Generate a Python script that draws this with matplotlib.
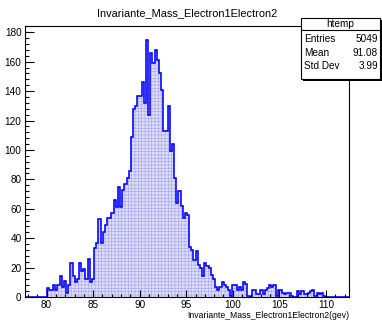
import numpy as np
import matplotlib
matplotlib.use("Agg")
import matplotlib.pyplot as plt
from matplotlib.patches import Rectangle
from matplotlib.ticker import MultipleLocator

plt.rcParams['font.family'] = ['Liberation Sans Narrow', 'Liberation Sans', 'DejaVu Sans']
plt.rcParams['hatch.linewidth'] = 0.4

hist_name = "htemp"
hist_title = "Invariante_Mass_Electron1Electron2"
x_title = "Invariante_Mass_Electron1Electron2(gev)"

# binning of htemp: 150 bins, data only between 80 and 110
x_min, bin_width, n_bins = 77.68, 0.232, 150
first_filled = 10
filled_counts = [
    6, 5, 5, 8, 5, 8, 14, 7, 11, 3,
    8, 23, 14, 10, 12, 23, 18, 19, 12, 26,
    10, 12, 33, 37, 53, 37, 44, 49, 54, 54,
    57, 66, 61, 75, 61, 73, 77, 81, 86, 109,
    128, 130, 137, 137, 146, 132, 175, 124, 166, 159,
    168, 161, 152, 141, 113, 113, 130, 99, 104, 81,
    64, 72, 62, 54, 57, 56, 34, 32, 25, 31,
    22, 20, 14, 23, 21, 20, 15, 12, 7, 5,
    7, 10, 8, 7, 5, 1, 8, 8, 5, 7,
    5, 10, 9, 1, 0, 5, 5, 2, 2, 5,
    2, 5, 6, 8, 7, 8, 1, 5, 5, 3,
    2, 3, 3, 1, 0, 0, 4, 2, 4, 2,
    2, 3, 4, 5, 1, 3, 2, 3, 1,
]
stats_labels = ["Entries", "Mean", "Std Dev"]
stats_values = ["5049", "91.08", "3.99"]

counts = np.zeros(n_bins)
counts[first_filled:first_filled + len(filled_counts)] = filled_counts
edges = x_min + bin_width * np.arange(n_bins + 1)

W, H = 382, 323
fig = plt.figure(figsize=(W / 100, H / 100), dpi=100)
ax = fig.add_axes([25 / W, 26 / H, 324 / W, 271 / H])

# hatched fill, then the blue outline on top
ax.stairs(counts, edges, fill=True, facecolor='#dcdcf8', edgecolor='#a4a4ee',
          hatch='+++++', linewidth=0)
ax.stairs(counts, edges, color='#0000ff', linewidth=1.15)

ax.set_xlim(edges[0], edges[-1])
ax.set_ylim(0, 184.3)

ax.xaxis.set_major_locator(MultipleLocator(5))
ax.xaxis.set_minor_locator(MultipleLocator(1))
ax.yaxis.set_major_locator(MultipleLocator(20))
ax.yaxis.set_minor_locator(MultipleLocator(4))
ax.tick_params(which='both', direction='in', width=0.8, labelsize=7.2, colors='black')
ax.tick_params(axis='x', which='major', length=5, pad=2.5)
ax.tick_params(axis='x', which='minor', length=2.5)
ax.tick_params(axis='y', which='major', length=6.5, pad=2.5)
ax.tick_params(axis='y', which='minor', length=3.2)
for sp in ax.spines.values():
    sp.set_linewidth(0.8)

fig.text(187 / W, 1 - 13 / H, hist_title, ha='center', va='center', fontsize=7.9)
fig.text(349 / W, 1 - 315 / H, x_title, ha='right', va='center', fontsize=6.2)

# statistics box
bx0, bx1, by0, by1 = 301, 380, 18, 79
fig.add_artist(Rectangle(((bx0 + 1.5) / W, 1 - (by1 + 1.5) / H), (bx1 - bx0) / W,
                         (by1 - by0) / H, transform=fig.transFigure,
                         facecolor='black', edgecolor='none', zorder=10))
fig.add_artist(Rectangle((bx0 / W, 1 - by1 / H), (bx1 - bx0) / W, (by1 - by0) / H,
                         transform=fig.transFigure, facecolor='white',
                         edgecolor='black', linewidth=0.8, zorder=11))
fig.add_artist(plt.Line2D([bx0 / W, bx1 / W], [1 - 30 / H, 1 - 30 / H],
                          transform=fig.transFigure, color='black', linewidth=0.8,
                          zorder=12))
fig.text((bx0 + bx1) / 2 / W, 1 - 24 / H, hist_name, ha='center', va='center',
         fontsize=7.2, zorder=13)
for i, (lab, val) in enumerate(zip(stats_labels, stats_values)):
    yy = 1 - (39.5 + 13.3 * i) / H
    fig.text((bx0 + 3) / W, yy, lab, ha='left', va='center', fontsize=7.2, zorder=13)
    fig.text((bx1 - 2) / W, yy, val, ha='right', va='center', fontsize=7.2, zorder=13)

fig.savefig("out.png", dpi=100)
